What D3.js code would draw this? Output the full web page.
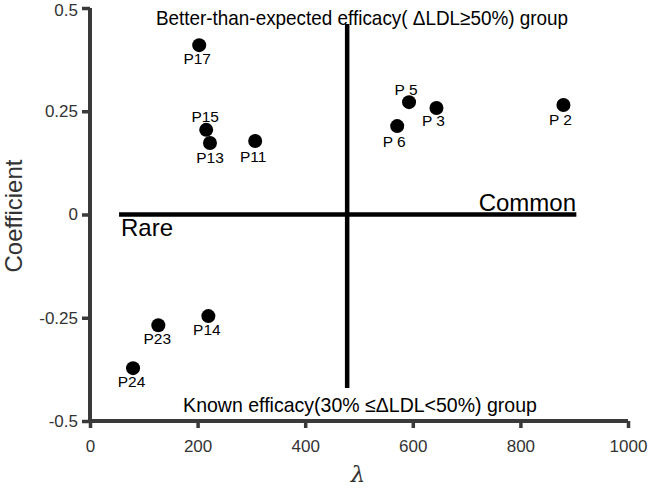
<!DOCTYPE html>
<html><head><meta charset="utf-8">
<script src="https://cdn.jsdelivr.net/npm/d3@7"></script>
<style>body{margin:0;background:#fff}</style>
</head><body>
<svg id="c" width="650" height="490"></svg>
<script>
// ---- data ----
const labels = ["P17","P15","P13","P11","P 5","P 3","P 6","P 2","P14","P23","P24"];
const lambdaVals = [203, 216, 223, 307, 593, 644, 571, 880, 220, 127, 80];
const coefVals = [0.41, 0.205, 0.173, 0.178, 0.272, 0.258, 0.214, 0.265, -0.246, -0.268, -0.372];
const xTicks = [0, 200, 400, 600, 800, 1000];
const yTicks = [-0.5, -0.25, 0, 0.25, 0.5];
const yTickLabels = ["-0.5", "-0.25", "0", "0.25", "0.5"];
const vLine = {lambda: 478, from: -0.42, to: 0.461};
const hLine = {coef: 0, from: 54, to: 904};

// ---- layout (label offsets in px) ----
const labelOffsets = {
  "P17":[-2,18.5], "P15":[-1,-8], "P13":[0,19.5], "P11":[-2,21],
  "P 5":[-3,-7.5], "P 3":[-3,18.5], "P 6":[-3,20.5], "P 2":[-3,20],
  "P14":[-1.5,18.6], "P23":[-1,18.5], "P24":[-1.5,19]
};

const svg = d3.select("#c");
const x = d3.scaleLinear().domain([0,1000]).range([90,628]);
const y = d3.scaleLinear().domain([-0.5,0.5]).range([421,8]);
const font = "'Liberation Sans', Arial, Helvetica, sans-serif";
const axisCol = "#3a3a3a";

const gx = svg.append("g").attr("transform","translate(0,421)")
  .call(d3.axisBottom(x).tickValues(xTicks).tickSize(7).tickPadding(12).tickFormat(d3.format("d")));
const gy = svg.append("g").attr("transform","translate(90,0)")
  .call(d3.axisLeft(y).tickValues(yTicks).tickSize(8).tickPadding(4).tickFormat((d,i)=>yTickLabels[i]));
[gx,gy].forEach(g=>{
  g.select(".domain").attr("stroke",axisCol).attr("stroke-width",4);
  g.selectAll(".tick line").attr("stroke",axisCol).attr("stroke-width",3.5);
  g.selectAll(".tick text").attr("fill","#333").style("font-family",font).style("font-size","17px");
});
gy.selectAll(".tick text").filter(d=>d===0.5).attr("dy","0.42em");
gx.select(".domain").attr("d","M"+(x(0)-2)+",0H"+x(1000));
gy.select(".domain").attr("d","M0,"+y(-0.5)+"V"+y(0.5));

// cross lines
svg.append("line").attr("x1",x(vLine.lambda)).attr("x2",x(vLine.lambda))
  .attr("y1",y(vLine.to)).attr("y2",y(vLine.from)).attr("stroke","#000").attr("stroke-width",4.5);
svg.append("line").attr("x1",x(hLine.from)).attr("x2",x(hLine.to))
  .attr("y1",y(hLine.coef)).attr("y2",y(hLine.coef)).attr("stroke","#000").attr("stroke-width",4.5);

// points
const pts = labels.map((l,i)=>({l, lx: lambdaVals[i], c: coefVals[i]}));
svg.selectAll("circle.p").data(pts).enter().append("circle").attr("class","p")
  .attr("cx",d=>x(d.lx)).attr("cy",d=>y(d.c)).attr("r",7).attr("fill","#000");
svg.selectAll("text.pl").data(pts).enter().append("text").attr("class","pl")
  .attr("x",d=>x(d.lx)+labelOffsets[d.l][0]).attr("y",d=>y(d.c)+labelOffsets[d.l][1])
  .attr("text-anchor","middle").style("font-family",font).style("font-size","15.5px")
  .attr("fill","#000").text(d=>d.l);

// annotations
const ann = (t,xx,yy,anchor,size,sx)=>svg.append("text")
  .attr("transform","translate("+xx+","+yy+") scale("+(sx||1)+",1)")
  .attr("text-anchor",anchor).style("font-family",font).style("font-size",size+"px").attr("fill","#000").text(t);
ann("Better-than-expected efficacy( \u0394LDL\u226550%) group", 362, 25, "middle", 21, 0.9);
ann("Known efficacy(30% \u2264\u0394LDL<50%) group", 360, 412, "middle", 21, 0.93);
ann("Common", 576, 211, "end", 24);
ann("Rare", 121, 236, "start", 24);

// axis titles
svg.append("text").attr("transform","translate(22,216) rotate(-90)").attr("text-anchor","middle")
  .style("font-family",font).style("font-size","24px").attr("fill","#333").text("Coefficient");
svg.append("text").attr("x",358).attr("y",482).attr("text-anchor","middle")
  .style("font-family","'DejaVu Serif', serif").style("font-style","italic").style("font-size","23px").attr("fill","#333").text("\u03bb");
</script>
</body></html>
